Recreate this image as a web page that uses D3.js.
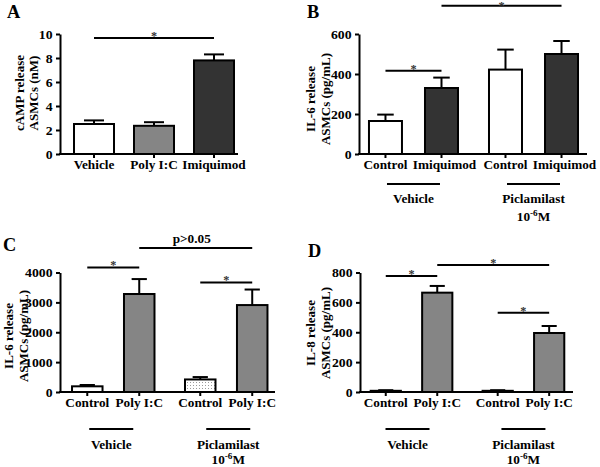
<!DOCTYPE html>
<html><head><meta charset="utf-8">
<script src="https://cdn.jsdelivr.net/npm/d3@7"></script>
<style>
body{margin:0;background:#fff;}
svg text{font-family:"Liberation Serif","Times New Roman",serif;font-weight:bold;fill:#000;}
</style></head>
<body><svg id="c" width="600" height="467"></svg>
<script>
// ---------- DATA ----------
// Panel A
const condsA = ["Vehicle", "Poly I:C", "Imiquimod"];
const meanA = [2.5, 2.35, 7.8];
const semA = [0.3, 0.3, 0.5];
const ticksA = [0, 2, 4, 6, 8, 10];
// Panel B
const groupsB = ["Vehicle", "Piclamilast"];
const condsB = ["Control", "Imiquimod"];
const meanB = [165, 330, 422, 500];
const semB = [32, 52, 100, 65];
const ticksB = [0, 200, 400, 600];
// Panel C
const groupsC = ["Vehicle", "Piclamilast"];
const condsC = ["Control", "Poly I:C"];
const meanC = [190, 3280, 420, 2910];
const semC = [45, 500, 80, 520];
const ticksC = [0, 1000, 2000, 3000, 4000];
// Panel D
const groupsD = ["Vehicle", "Piclamilast"];
const condsD = ["Control", "Poly I:C"];
const meanD = [8, 665, 8, 395];
const semD = [4, 45, 4, 47];
const ticksD = [0, 200, 400, 600, 800];
// significance brackets: [fromBar, toBar, level, label]
const sigA = [[0, 2, 9.67, "*"]];
const sigB = [[0, 1, 416, "*"], [1, 3, 741, "*"]];
const sigC = [[0, 1, 4171, "*"], [2, 3, 3669, "*"], [1, 3, 4820, "p>0.05"]];
const sigD = [[0, 1, 777, "*"], [1, 3, 850, "*"], [2, 3, 531, "*"]];

// ---------- DRAW ----------
const svg = d3.select("#c");
const defs = svg.append("defs");
const pat = defs.append("pattern").attr("id", "dots").attr("width", 3).attr("height", 3)
  .attr("patternUnits", "userSpaceOnUse");
pat.append("rect").attr("width", 3).attr("height", 3).attr("fill", "#fff");
pat.append("rect").attr("x", 1).attr("y", 1).attr("width", 1).attr("height", 1).attr("fill", "#9a9a9a");

const WHITE = "#ffffff", GRAY = "#858585", DARK = "#333333", DOTS = "url(#dots)";
const SX = 1.02;

function txt(g, x, y, s, size, anchor) {
  return g.append("text").attr("transform", `translate(${x},${y}) scale(${SX},1)`)
    .attr("text-anchor", anchor || "middle").style("font-size", size + "px").text(s);
}

function panel(cfg) {
  const g = svg.append("g");
  const y = d3.scaleLinear().domain(cfg.domain).range([cfg.yBase, cfg.yTop]);
  const outer = d3.scaleBand().domain(cfg.groups).range([cfg.axisX, cfg.axisEnd])
    .paddingInner(cfg.oPi).paddingOuter(cfg.oPo).align(cfg.oAlign);
  const inner = d3.scaleBand().domain(cfg.conds).range([0, outer.bandwidth()])
    .paddingInner(cfg.iPi).paddingOuter(0);
  const bars = [];
  cfg.groups.forEach((gr, gi) => cfg.conds.forEach((c, ci) => {
    const i = gi * cfg.conds.length + ci;
    bars.push({group: gr, cond: c, x: outer(gr) + inner(c), w: inner.bandwidth(),
      m: cfg.means[i], s: cfg.sems[i], fill: cfg.fills[i]});
  }));
  const cx = b => b.x + b.w / 2;

  // error bars (upward only)
  bars.forEach(b => {
    const cap = b.w * 0.25;
    g.append("line").attr("x1", cx(b)).attr("x2", cx(b)).attr("y1", y(b.m)).attr("y2", y(b.m + b.s))
      .attr("stroke", "#000").attr("stroke-width", 2);
    g.append("line").attr("x1", cx(b) - cap).attr("x2", cx(b) + cap).attr("y1", y(b.m + b.s)).attr("y2", y(b.m + b.s))
      .attr("stroke", "#000").attr("stroke-width", 2);
  });
  // bars
  g.selectAll("rect.bar").data(bars).join("rect").attr("class", "bar")
    .attr("x", d => d.x).attr("width", d => d.w)
    .attr("y", d => y(d.m)).attr("height", d => y(0) - y(d.m))
    .attr("fill", d => d.fill).attr("stroke", "#000").attr("stroke-width", 2);

  // y axis
  const ax = g.append("g").attr("transform", `translate(${cfg.axisX},0)`)
    .call(d3.axisLeft(y).tickValues(cfg.ticks).tickSize(4).tickSizeOuter(0).tickPadding(3).tickFormat(d3.format("d")));
  ax.select(".domain").attr("stroke-width", 2);
  ax.selectAll(".tick line").attr("stroke-width", 2);
  ax.selectAll(".tick text").attr("transform", `scale(1.06,1)`)
    .style("font-size", "13px").style("font-family", "'Liberation Serif',serif").style("font-weight", "bold");

  // x axis
  g.append("line").attr("x1", cfg.axisX - 1).attr("x2", cfg.axisEnd).attr("y1", cfg.yBase).attr("y2", cfg.yBase)
    .attr("stroke", "#000").attr("stroke-width", 2);
  bars.forEach((b, i) => {
    g.append("line").attr("x1", cx(b)).attr("x2", cx(b)).attr("y1", cfg.yBase).attr("y2", cfg.yBase + 4)
      .attr("stroke", "#000").attr("stroke-width", 2);
    const nudge = (cfg.labelNudge && i % 2 === 1) ? cfg.labelNudge : 0;
    txt(g, cx(b) + nudge, cfg.yBase + 15, b.cond, 13);
  });

  // group annotations
  if (cfg.groupLine) {
    cfg.groups.forEach((gr, gi) => {
      const c = outer(gr) + outer.bandwidth() / 2 + (cfg.groupShift ? cfg.groupShift[gi] : 0);
      g.append("line").attr("x1", c - cfg.groupLine).attr("x2", c + cfg.groupLine)
        .attr("y1", cfg.yBase + cfg.gLineDy).attr("y2", cfg.yBase + cfg.gLineDy)
        .attr("stroke", "#000").attr("stroke-width", 2);
      txt(g, c, cfg.yBase + cfg.gTextDy, gr, 13);
      if (gr === "Piclamilast") {
        const t2 = txt(g, c, cfg.yBase + cfg.gTextDy + cfg.gLine2, "", 13);
        t2.append("tspan").text("10");
        t2.append("tspan").attr("dy", -5).style("font-size", "9px").text("-6");
        t2.append("tspan").attr("dy", 5).text("M");
      }
    });
  }

  // significance
  cfg.sig.forEach(s => {
    const x1 = cx(bars[s[0]]), x2 = cx(bars[s[1]]), yy = y(s[2]);
    g.append("line").attr("x1", x1).attr("x2", x2).attr("y1", yy).attr("y2", yy)
      .attr("stroke", "#000").attr("stroke-width", 2);
    if (s[3] === "*") {
      txt(g, (x1 + x2) / 2, Math.max(yy + 2, 10), "*", 12).style("fill", "#333");
    } else {
      txt(g, (x1 + x2) / 2 - 4, yy - 5, s[3], 13);
    }
  });

  // y title
  const tt = g.append("g").attr("transform", `translate(0,${cfg.titleY})`);
  cfg.title.forEach((line, i) => {
    tt.append("text").attr("transform", `translate(${cfg.titleX[i]},0) rotate(-90)`)
      .attr("text-anchor", "middle").style("font-size", "13px").text(line);
  });
  // panel letter
  txt(g, cfg.letterPos[0], cfg.letterPos[1], cfg.letter, 18, "start");
}

panel({letter: "A", letterPos: [7, 18], axisX: 60, axisEnd: 238, yTop: 34, yBase: 154,
  domain: [0, 10], ticks: ticksA, groups: [""], conds: condsA, means: meanA, sems: semA,
  fills: [WHITE, GRAY, DARK], oPi: 0, oPo: 0.05625, oAlign: 0.778, iPi: 0.3333,
  sig: sigA, title: ["cAMP release", "ASMCs (nM)"], titleX: [23.5, 37.5], titleY: 93});

panel({letter: "B", letterPos: [307, 18], axisX: 359, axisEnd: 587, yTop: 34, yBase: 154,
  domain: [0, 600], ticks: ticksB, groups: groupsB, conds: condsB, means: meanB, sems: semB,
  fills: [WHITE, DARK, WHITE, DARK], oPi: 0.2583, oPo: 0.079, oAlign: 0.526, iPi: 0.411,
  labelNudge: 3,
  groupLine: 26.5, gLineDy: 30, gTextDy: 49, gLine2: 18,
  sig: sigB, title: ["IL-6 release", "ASMCs (pg/mL)"], titleX: [315, 330], titleY: 99});

panel({letter: "C", letterPos: [3, 251], axisX: 60, axisEnd: 275, yTop: 272.5, yBase: 392,
  domain: [0, 4000], ticks: ticksC, groups: groupsC, conds: condsC, means: meanC, sems: semC,
  fills: [WHITE, GRAY, DOTS, GRAY], oPi: 0.27, oPo: 0.0865, oAlign: 0.615, iPi: 0.413,
  groupLine: 22, groupShift: [-2, 2], gLineDy: 37, gTextDy: 57, gLine2: 15,
  sig: sigC, title: ["IL-6 release", "ASMCs (pg/mL)"], titleX: [13, 28], titleY: 336});

panel({letter: "D", letterPos: [308, 257], axisX: 360, axisEnd: 573, yTop: 272.5, yBase: 392,
  domain: [0, 800], ticks: ticksD, groups: groupsD, conds: condsD, means: meanD, sems: semD,
  fills: [WHITE, GRAY, WHITE, GRAY], oPi: 0.27, oPo: 0.0865, oAlign: 0.55, iPi: 0.413,
  groupLine: 22, groupShift: [-4, 0], gLineDy: 37, gTextDy: 57, gLine2: 15,
  sig: sigD, title: ["IL-8 release", "ASMCs (pg/mL)"], titleX: [315, 330], titleY: 333});
</script></body></html>
